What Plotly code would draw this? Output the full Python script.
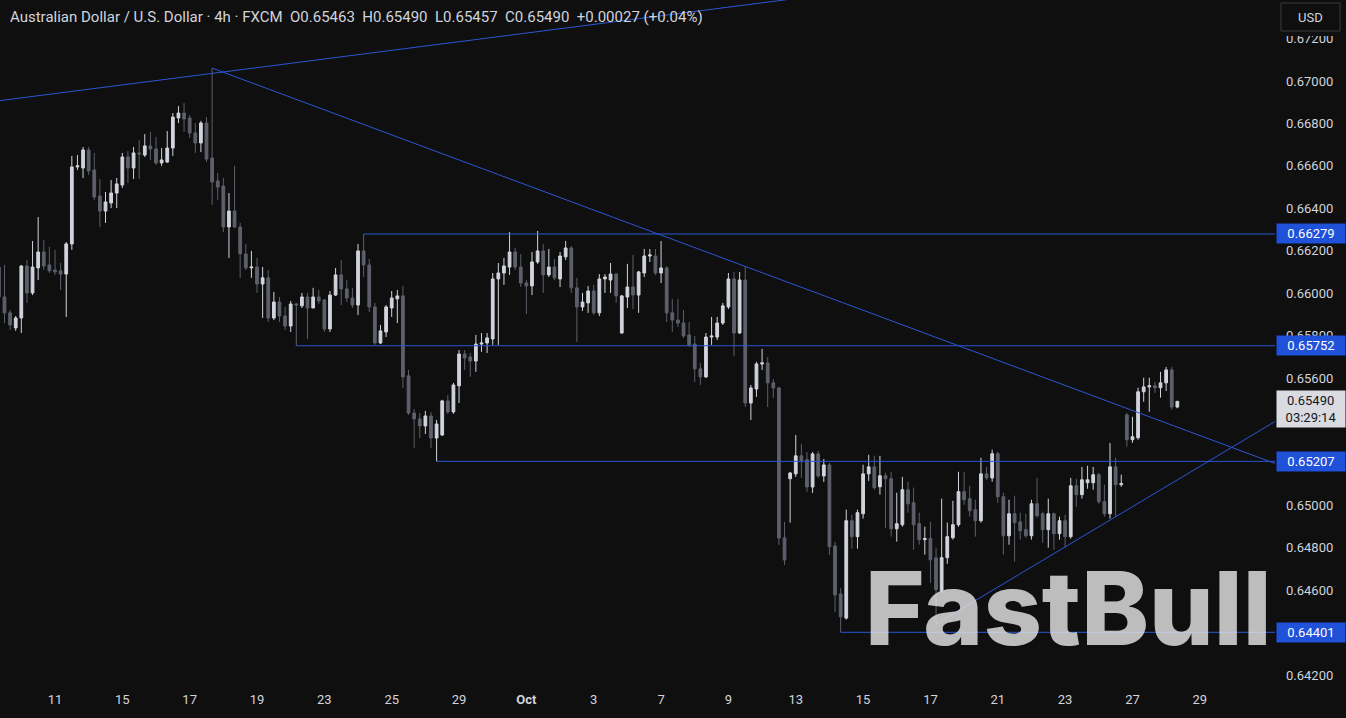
import plotly.graph_objects as go

# ---------------- data (AUD/USD 4h candles) ----------------
first_candle = -10   # candle index of the first visible bar (index 0 = first bar of Sep 11)

opens = [0.66123, 0.65982, 0.65907, 0.65836, 0.65883, 0.66128, 0.66001, 0.66119, 0.66194, 0.66133,
         0.66109, 0.66105, 0.66090, 0.66232, 0.66595, 0.66590, 0.66675, 0.66581, 0.66458, 0.66387,
         0.66425, 0.66472, 0.66510, 0.66642, 0.66590, 0.66661, 0.66651, 0.66694, 0.66680, 0.66614,
         0.66618, 0.66684, 0.66826, 0.66849, 0.66826, 0.66755, 0.66708, 0.66802, 0.66637, 0.66529,
         0.66505, 0.66312, 0.66387, 0.66312, 0.66185, 0.66119, 0.66123, 0.66043, 0.66072, 0.65883,
         0.65958, 0.65892, 0.65845, 0.65949, 0.65940, 0.65982, 0.65930, 0.65982, 0.65968, 0.65831,
         0.65991, 0.66086, 0.66020, 0.65977, 0.65944, 0.66199, 0.66133, 0.65935, 0.65765, 0.65817,
         0.65930, 0.65973, 0.65987, 0.65610, 0.65435, 0.65407, 0.65374, 0.65421, 0.65317, 0.65331,
         0.65492, 0.65440, 0.65563, 0.65713, 0.65699, 0.65680, 0.65760, 0.65765, 0.65784, 0.66067,
         0.66095, 0.66123, 0.66194, 0.66123, 0.66048, 0.66034, 0.66147, 0.66199, 0.66086, 0.66123,
         0.66067, 0.66171, 0.66213, 0.66025, 0.65935, 0.65954, 0.66010, 0.65907, 0.66067, 0.66062,
         0.66090, 0.65812, 0.65982, 0.66029, 0.65991, 0.66095, 0.66175, 0.66175, 0.66095, 0.66119,
         0.65907, 0.65873, 0.65859, 0.65803, 0.65760, 0.65643, 0.65605, 0.65793, 0.65793, 0.65859,
         0.65935, 0.66067, 0.65812, 0.66062, 0.65482, 0.65548, 0.65666, 0.65671, 0.65577, 0.65553,
         0.64846, 0.65125, 0.65148, 0.65233, 0.65214, 0.65086, 0.65242, 0.65138, 0.65190, 0.64808,
         0.64582, 0.64468, 0.64927, 0.64852, 0.64960, 0.65148, 0.65181, 0.65087, 0.65139, 0.65125,
         0.64889, 0.64908, 0.65073, 0.65012, 0.64913, 0.64838, 0.64843, 0.64752, 0.64598, 0.64753,
         0.64847, 0.64908, 0.65064, 0.65031, 0.64979, 0.64927, 0.65148, 0.65129, 0.65243, 0.65040,
         0.64856, 0.64960, 0.64922, 0.64885, 0.64856, 0.65007, 0.64960, 0.64885, 0.64960, 0.64866,
         0.64927, 0.64852, 0.65092, 0.65050, 0.65106, 0.65106, 0.65144, 0.65017, 0.64960, 0.65181,
         0.65097, 0.65426, 0.65309, 0.65318, 0.65535, 0.65558, 0.65563, 0.65554, 0.65577, 0.65638,
         0.65463]

highs = [0.66133, 0.66133, 0.65921, 0.65892, 0.66133, 0.66156, 0.66246, 0.66359, 0.66251, 0.66218,
         0.66204, 0.66142, 0.66241, 0.66647, 0.66651, 0.66689, 0.66689, 0.66661, 0.66538, 0.66477,
         0.66533, 0.66543, 0.66661, 0.66670, 0.66689, 0.66722, 0.66750, 0.66760, 0.66736, 0.66684,
         0.66764, 0.66849, 0.66882, 0.66896, 0.66840, 0.66802, 0.66812, 0.66830, 0.67061, 0.66566,
         0.66543, 0.66472, 0.66600, 0.66331, 0.66232, 0.66199, 0.66166, 0.66123, 0.66109, 0.66006,
         0.65982, 0.65935, 0.65963, 0.65954, 0.66001, 0.66001, 0.66025, 0.66015, 0.65973, 0.66010,
         0.66119, 0.66156, 0.66062, 0.66025, 0.66232, 0.66279, 0.66161, 0.65954, 0.65850, 0.65944,
         0.66010, 0.66015, 0.66034, 0.65638, 0.65454, 0.65435, 0.65445, 0.65440, 0.65402, 0.65497,
         0.65520, 0.65577, 0.65732, 0.65732, 0.65718, 0.65803, 0.65812, 0.65812, 0.66095, 0.66142,
         0.66166, 0.66288, 0.66213, 0.66185, 0.66062, 0.66194, 0.66293, 0.66232, 0.66208, 0.66161,
         0.66194, 0.66246, 0.66222, 0.66072, 0.66001, 0.66034, 0.66039, 0.66090, 0.66090, 0.66142,
         0.66095, 0.65991, 0.66138, 0.66180, 0.66105, 0.66208, 0.66208, 0.66208, 0.66246, 0.66128,
         0.65973, 0.65973, 0.65921, 0.65864, 0.65798, 0.65671, 0.65812, 0.65888, 0.65888, 0.65954,
         0.66095, 0.66100, 0.66100, 0.66123, 0.65567, 0.65676, 0.65737, 0.65699, 0.65595, 0.65558,
         0.64921, 0.65157, 0.65331, 0.65289, 0.65251, 0.65251, 0.65256, 0.65218, 0.65199, 0.64827,
         0.64610, 0.64979, 0.64955, 0.64979, 0.65191, 0.65238, 0.65233, 0.65233, 0.65153, 0.65158,
         0.65059, 0.65134, 0.65111, 0.65083, 0.64965, 0.64899, 0.64922, 0.64800, 0.65031, 0.64918,
         0.65021, 0.65158, 0.65158, 0.65092, 0.65026, 0.65224, 0.65181, 0.65262, 0.65252, 0.65059,
         0.65026, 0.65045, 0.64965, 0.64960, 0.65026, 0.65129, 0.64970, 0.65031, 0.64965, 0.64946,
         0.64955, 0.65129, 0.65125, 0.65181, 0.65186, 0.65181, 0.65153, 0.65097, 0.65294, 0.65224,
         0.65144, 0.65436, 0.65417, 0.65554, 0.65601, 0.65601, 0.65582, 0.65629, 0.65652, 0.65652,
         0.65490]

lows = [0.65968, 0.65859, 0.65826, 0.65822, 0.65812, 0.65954, 0.65991, 0.66062, 0.66109, 0.66095,
        0.66086, 0.66015, 0.65888, 0.66204, 0.66581, 0.66543, 0.66557, 0.66439, 0.66312, 0.66331,
        0.66401, 0.66401, 0.66496, 0.66519, 0.66538, 0.66538, 0.66642, 0.66628, 0.66604, 0.66600,
        0.66614, 0.66647, 0.66802, 0.66760, 0.66731, 0.66661, 0.66665, 0.66618, 0.66416, 0.66439,
        0.66288, 0.66166, 0.66307, 0.66072, 0.66109, 0.66072, 0.66001, 0.65883, 0.65864, 0.65873,
        0.65864, 0.65826, 0.65817, 0.65752, 0.65930, 0.65784, 0.65930, 0.65949, 0.65817, 0.65817,
        0.65987, 0.65944, 0.65958, 0.65930, 0.65897, 0.66076, 0.65911, 0.65756, 0.65760, 0.65793,
        0.65888, 0.65859, 0.65553, 0.65426, 0.65270, 0.65317, 0.65336, 0.65270, 0.65207, 0.65327,
        0.65431, 0.65431, 0.65482, 0.65638, 0.65605, 0.65629, 0.65723, 0.65718, 0.65756, 0.65756,
        0.66039, 0.66086, 0.66109, 0.66029, 0.65902, 0.65991, 0.66138, 0.66001, 0.66076, 0.66062,
        0.66029, 0.66156, 0.66001, 0.65770, 0.65916, 0.65907, 0.65897, 0.65892, 0.66001, 0.66001,
        0.65954, 0.65808, 0.65930, 0.65925, 0.65907, 0.66076, 0.66147, 0.66086, 0.66048, 0.65864,
        0.65817, 0.65840, 0.65789, 0.65746, 0.65581, 0.65567, 0.65600, 0.65756, 0.65779, 0.65850,
        0.65925, 0.65704, 0.65808, 0.65463, 0.65402, 0.65511, 0.65638, 0.65463, 0.65506, 0.64813,
        0.64719, 0.64918, 0.65134, 0.65129, 0.65063, 0.65058, 0.65129, 0.65110, 0.64766, 0.64497,
        0.64401, 0.64461, 0.64795, 0.64795, 0.64937, 0.65115, 0.65073, 0.65050, 0.64894, 0.64852,
        0.64828, 0.64899, 0.64965, 0.64790, 0.64814, 0.64767, 0.64634, 0.64445, 0.64588, 0.64724,
        0.64838, 0.64899, 0.65002, 0.64946, 0.64852, 0.64918, 0.65120, 0.65111, 0.65012, 0.64767,
        0.64814, 0.64734, 0.64838, 0.64847, 0.64838, 0.64941, 0.64823, 0.64800, 0.64790, 0.64838,
        0.64800, 0.64842, 0.64993, 0.65031, 0.65078, 0.65073, 0.65007, 0.64946, 0.64937, 0.64946,
        0.65087, 0.65276, 0.65294, 0.65309, 0.65488, 0.65441, 0.65530, 0.65507, 0.65539, 0.65450,
        0.65457]

closes = [0.65982, 0.65907, 0.65850, 0.65883, 0.66128, 0.66001, 0.66123, 0.66194, 0.66128, 0.66105,
          0.66100, 0.66090, 0.66232, 0.66595, 0.66600, 0.66675, 0.66576, 0.66453, 0.66387, 0.66430,
          0.66472, 0.66515, 0.66642, 0.66590, 0.66661, 0.66656, 0.66694, 0.66680, 0.66614, 0.66628,
          0.66684, 0.66830, 0.66849, 0.66821, 0.66755, 0.66708, 0.66802, 0.66632, 0.66524, 0.66500,
          0.66312, 0.66387, 0.66312, 0.66185, 0.66119, 0.66123, 0.66043, 0.66072, 0.65883, 0.65958,
          0.65892, 0.65845, 0.65949, 0.65944, 0.65982, 0.65930, 0.65982, 0.65963, 0.65831, 0.65991,
          0.66086, 0.66020, 0.65977, 0.65944, 0.66199, 0.66133, 0.65935, 0.65765, 0.65822, 0.65935,
          0.65977, 0.65987, 0.65605, 0.65435, 0.65407, 0.65374, 0.65421, 0.65317, 0.65383, 0.65492,
          0.65440, 0.65567, 0.65713, 0.65694, 0.65680, 0.65760, 0.65765, 0.65789, 0.66067, 0.66095,
          0.66128, 0.66194, 0.66123, 0.66048, 0.66034, 0.66147, 0.66199, 0.66086, 0.66123, 0.66072,
          0.66175, 0.66213, 0.66025, 0.65935, 0.65958, 0.66010, 0.65907, 0.66067, 0.66076, 0.66090,
          0.65987, 0.65987, 0.66029, 0.65991, 0.66100, 0.66175, 0.66180, 0.66095, 0.66119, 0.65907,
          0.65873, 0.65859, 0.65798, 0.65756, 0.65643, 0.65605, 0.65793, 0.65798, 0.65859, 0.65940,
          0.66067, 0.65812, 0.66062, 0.65482, 0.65553, 0.65666, 0.65671, 0.65577, 0.65553, 0.64846,
          0.64742, 0.65152, 0.65233, 0.65209, 0.65086, 0.65242, 0.65138, 0.65190, 0.64804, 0.64577,
          0.64474, 0.64927, 0.64852, 0.64965, 0.65148, 0.65181, 0.65083, 0.65139, 0.65125, 0.64889,
          0.64913, 0.65073, 0.65007, 0.64908, 0.64838, 0.64843, 0.64743, 0.64602, 0.64753, 0.64852,
          0.64908, 0.65064, 0.65026, 0.64974, 0.64927, 0.65148, 0.65129, 0.65243, 0.65040, 0.64856,
          0.64960, 0.64918, 0.64880, 0.64856, 0.65007, 0.64951, 0.64885, 0.64960, 0.64866, 0.64927,
          0.64852, 0.65092, 0.65050, 0.65120, 0.65120, 0.65144, 0.65017, 0.64960, 0.65181, 0.65097,
          0.65102, 0.65309, 0.65323, 0.65535, 0.65558, 0.65563, 0.65554, 0.65577, 0.65638, 0.65463,
          0.65490]

# x-axis date labels and the candle index where each trading day begins
date_labels = ["11", "15", "17", "19", "23", "25", "29", "<b>Oct</b>", "3", "7", "9",
               "13", "15", "17", "21", "23", "27", "29"]
date_label_idx = [0, 12, 24, 36, 48, 60, 72, 84, 96, 108, 120, 132, 144, 156, 168, 180, 192, 204]

# price axis ticks
price_ticks = [0.642, 0.644, 0.646, 0.648, 0.650, 0.652, 0.654, 0.656, 0.658,
               0.660, 0.662, 0.664, 0.666, 0.668, 0.670, 0.672]

# horizontal support / resistance levels and the candle where each starts
level_prices = [0.66279, 0.65752, 0.65207, 0.64401]
level_start_idx = [55, 43, 68, 140]

# trend lines: two anchor points each (candle index, price), extended to the right edge
trend_x0 = [-10, 28, 157]
trend_p0 = [0.66907, 0.67061, 0.64440]
trend_x1 = [28, 123, 188]
trend_p1 = [0.67036, 0.66126, 0.64930]

last_price = 0.65490
countdown = "03:29:14"
header = ("Australian Dollar / U.S. Dollar · 4h · FXCM  O0.65463  H0.65490  "
          "L0.65457  C0.65490  +0.00027 (+0.04%)")
currency = "USD"
watermark = "FastBull"

# ---------------- styling ----------------
BG = "#0f0f0f"
UP = "#d1d4dc"
DOWN = "#5d606b"
LINE_BLUE = "#2a56d4"
LABEL_BLUE = "#1f51d9"
TXT = "#d1d4dc"
FONT = "Roboto"

X_RANGE = [-9.8, 217.4]
Y_RANGE = [0.64129, 0.67382]
PLOT_W, PLOT_H = 1275, 690

xs = list(range(first_candle, first_candle + len(opens)))

fig = go.Figure()
fig.add_trace(go.Candlestick(
    x=xs, open=opens, high=highs, low=lows, close=closes,
    increasing=dict(line=dict(color=UP, width=1), fillcolor=UP),
    decreasing=dict(line=dict(color=DOWN, width=1), fillcolor=DOWN),
    whiskerwidth=0, hoverinfo="skip", showlegend=False,
))

shapes = []
for p, s in zip(level_prices, level_start_idx):
    shapes.append(dict(type="line", xref="x", yref="y", x0=s, x1=X_RANGE[1], y0=p, y1=p,
                       line=dict(color=LINE_BLUE, width=1), layer="above"))

for xa, pa, xb, pb in zip(trend_x0, trend_p0, trend_x1, trend_p1):
    slope = (pb - pa) / (xb - xa)
    xe = X_RANGE[1] + 5
    shapes.append(dict(type="line", xref="x", yref="y", x0=xa, y0=pa, x1=xe,
                       y1=pa + slope * (xe - xa),
                       line=dict(color=LINE_BLUE, width=1), layer="above"))

# top of the price scale is masked (the first tick label is half hidden there)
shapes.append(dict(type="rect", xref="paper", yref="paper",
                   x0=1 + 1 / PLOT_W, x1=1346 / PLOT_W, y0=1 - 36 / PLOT_H, y1=1.02,
                   fillcolor=BG, line=dict(width=0), layer="above"))
# currency box (top right)
x0b, x1b, y0b, y1b = 1281 / PLOT_W, 1340 / PLOT_W, 1 - 3 / PLOT_H, 1 - 31 / PLOT_H
shapes.append(dict(type="rect", xref="paper", yref="paper",
                   x0=x0b, x1=x1b, y0=y1b, y1=y0b,
                   fillcolor=BG, line=dict(color="#3a3a3a", width=1), layer="above"))

annotations = []
for p in level_prices:
    annotations.append(dict(xref="paper", yref="y", x=1, y=p, xanchor="left", yanchor="middle",
                            xshift=1, text=f"{p:.5f}", showarrow=False, bgcolor=LABEL_BLUE,
                            width=66, height=17, borderpad=1,
                            font=dict(family=FONT, size=13, color="#ffffff")))

annotations.append(dict(xref="paper", yref="y", x=1, y=last_price, xanchor="left", yanchor="top",
                        xshift=1, yshift=11, text=f"{last_price:.5f}<br>{countdown}",
                        showarrow=False, bgcolor="#d9dbe1", width=66, height=34, borderpad=1,
                        font=dict(family=FONT, size=13, color="#131722")))

annotations.append(dict(xref="paper", yref="paper", x=(x0b + x1b) / 2, y=1 - 17 / PLOT_H,
                        xanchor="center", yanchor="middle", text=currency, showarrow=False,
                        font=dict(family=FONT, size=13, color=TXT)))

annotations.append(dict(xref="paper", yref="paper", x=0, y=1, xanchor="left", yanchor="middle",
                        xshift=8, yshift=-17, text=header.replace(" ", "\u00a0"),
                        showarrow=False, font=dict(family=FONT, size=15, color=TXT)))

annotations.append(dict(xref="paper", yref="paper", x=1068 / PLOT_W, y=1 - 608 / PLOT_H,
                        xanchor="center", yanchor="middle", text=watermark, showarrow=False,
                        font=dict(family="Inter", size=102, color="rgba(228,228,228,0.82)",
                                  weight=800)))

fig.update_layout(
    width=1346, height=718,
    margin=dict(l=0, r=71, t=0, b=28),
    paper_bgcolor=BG, plot_bgcolor=BG,
    showlegend=False,
    shapes=shapes, annotations=annotations,
    xaxis=dict(range=X_RANGE, tickmode="array", tickvals=date_label_idx, ticktext=date_labels,
               showgrid=False, zeroline=False, showline=False, ticks="",
               tickfont=dict(family=FONT, size=13, color=TXT),
               rangeslider=dict(visible=False), fixedrange=True),
    yaxis=dict(range=Y_RANGE, side="right", tickmode="array", tickvals=price_ticks,
               tickformat=".5f", showgrid=False, zeroline=False, showline=False, ticks="",
               ticklabelstandoff=10, tickfont=dict(family=FONT, size=13, color=TXT),
               fixedrange=True),
    hovermode=False,
)

fig.write_html("out.html", config={"displayModeBar": False},
               post_script="document.body.style.margin='0';document.body.style.overflow='hidden';")
